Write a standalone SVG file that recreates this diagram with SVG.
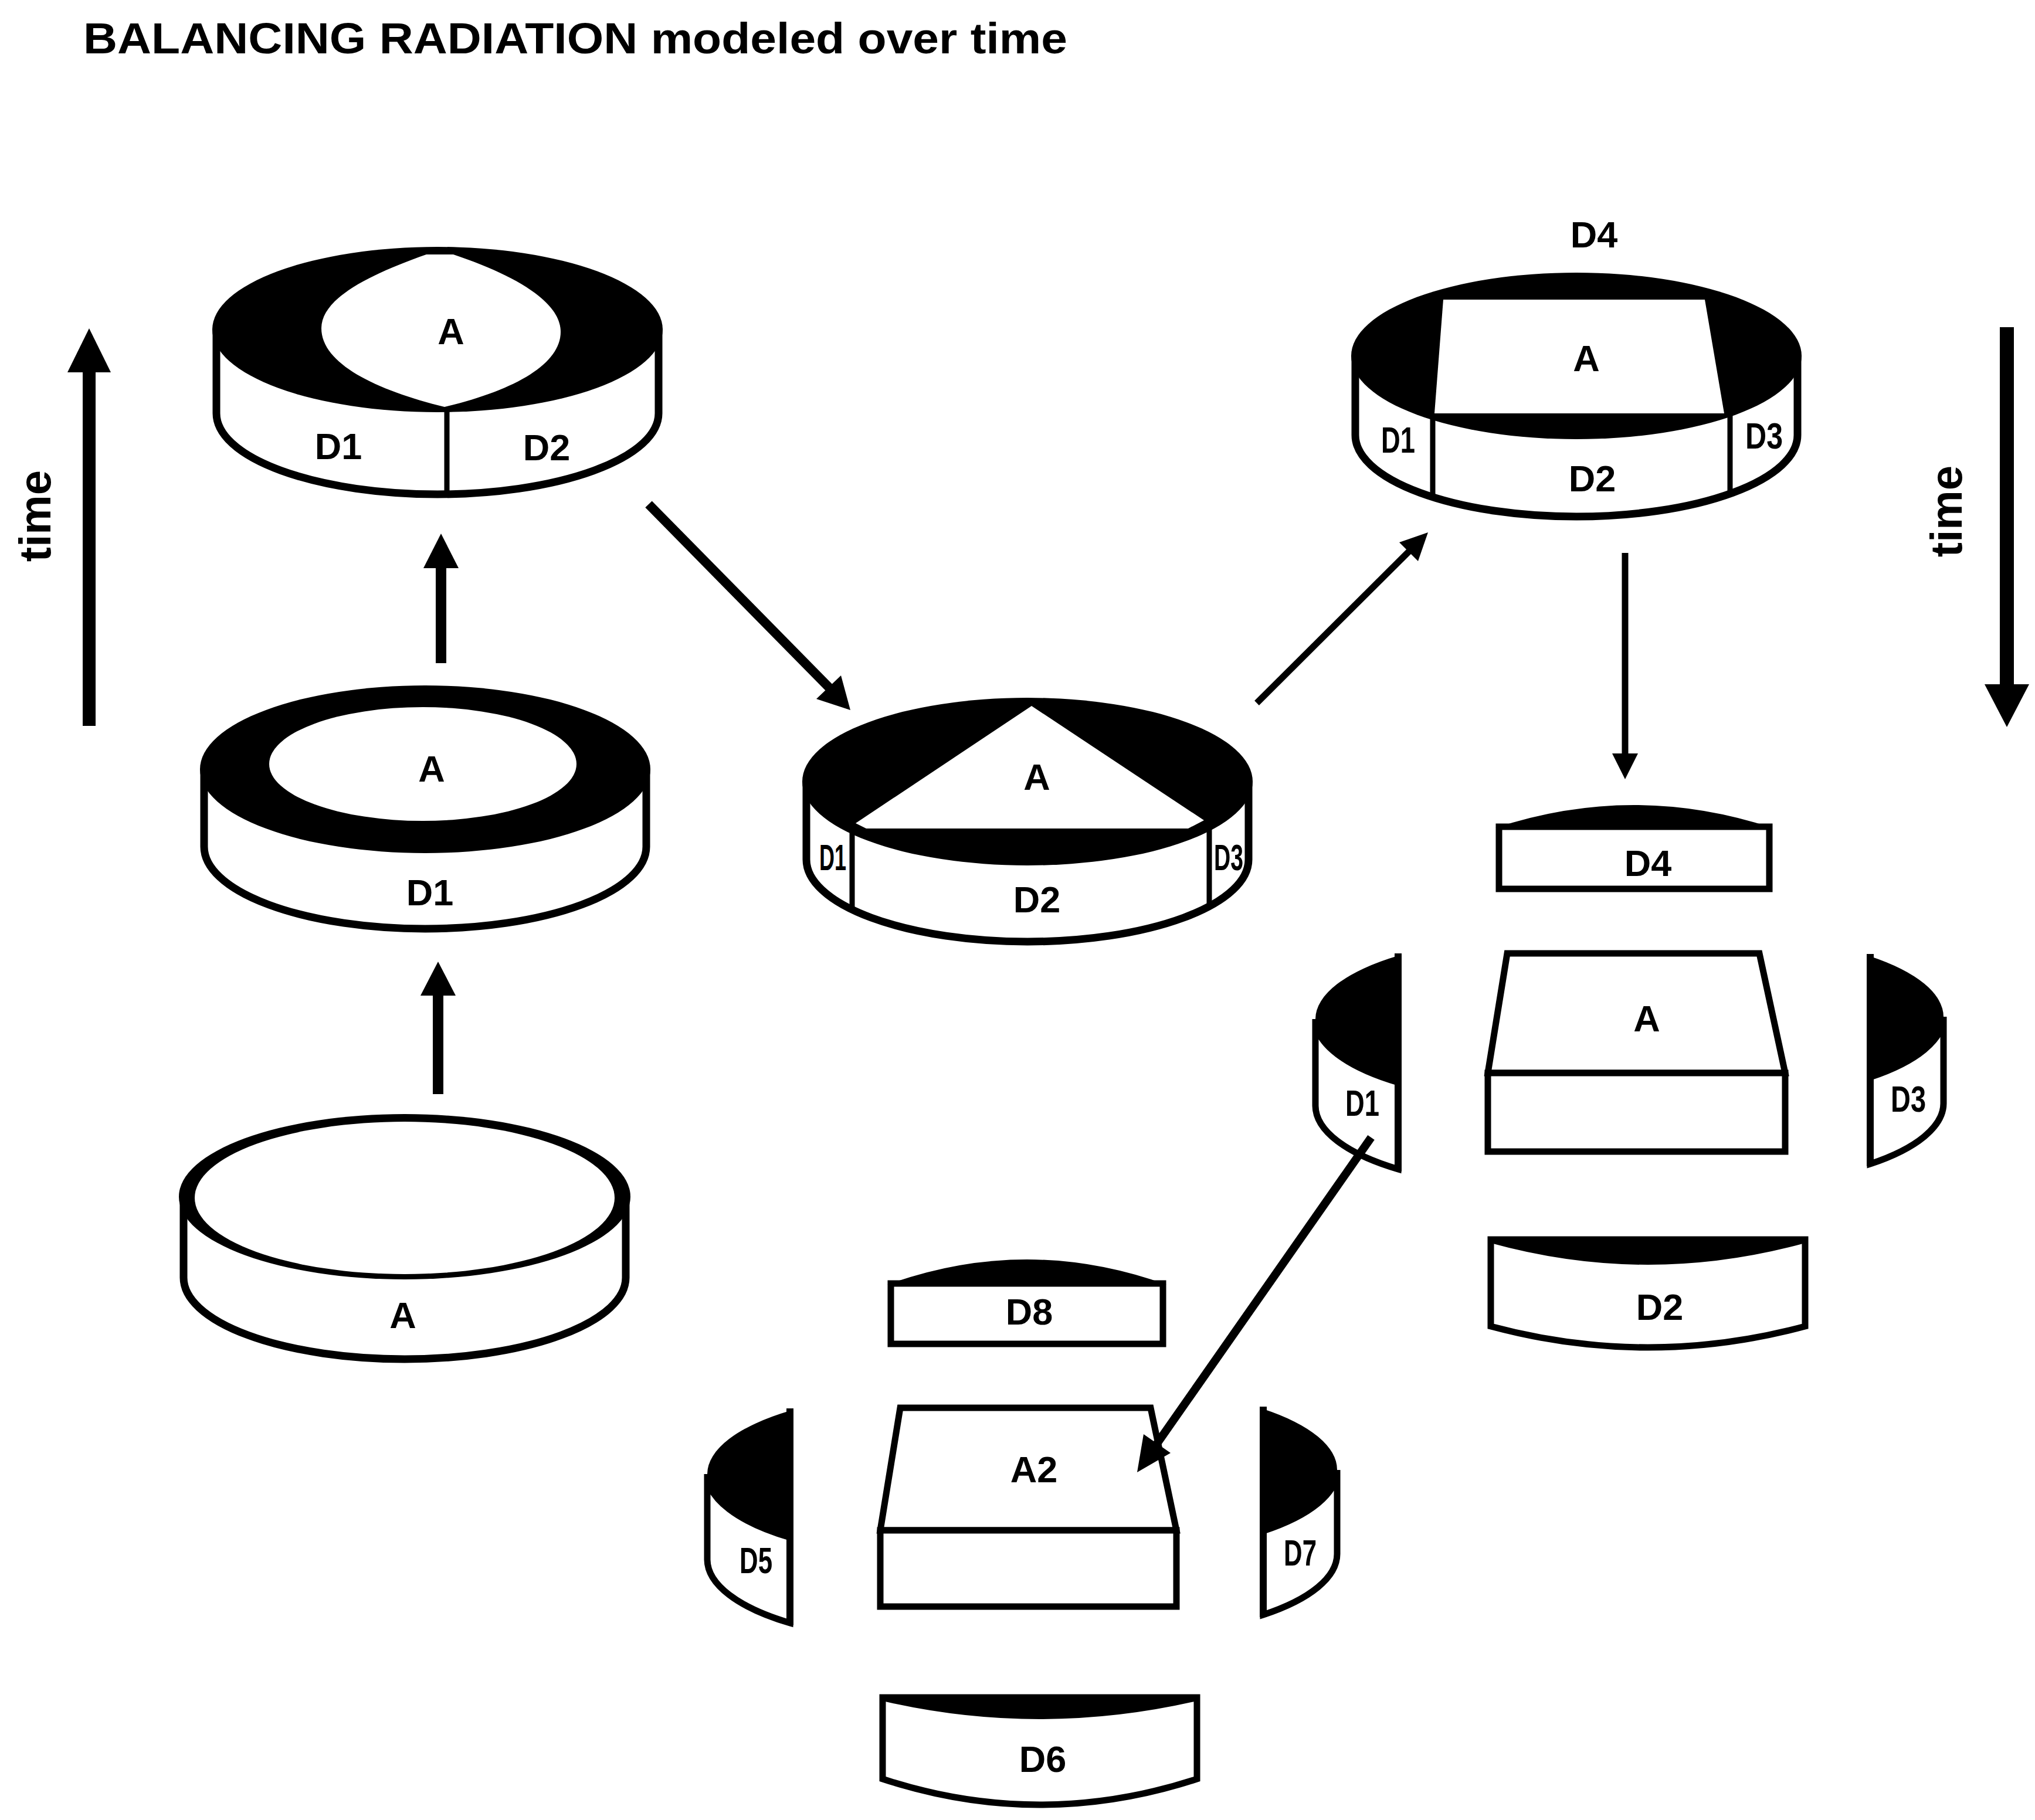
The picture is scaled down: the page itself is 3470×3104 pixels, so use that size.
<svg xmlns="http://www.w3.org/2000/svg" width="3470" height="3104" viewBox="0 0 3470 3104">
<style>
  text { font-family: "Liberation Sans", Arial, sans-serif; font-weight: bold; fill: #000; }
  .lbl { font-size: 63px; text-anchor: middle; }
  .ttl { font-size: 74px; }
  .time { font-size: 76px; text-anchor: middle; }
  .ol { fill: #fff; stroke: #000; stroke-width: 13; stroke-linejoin: round; }
  .pc { fill: #fff; stroke: #000; stroke-width: 11; stroke-linejoin: miter; }
  .blk { fill: #000; stroke: none; }
  .wht { fill: #fff; stroke: none; }
  .div { stroke: #000; stroke-width: 9; fill: none; }
  .edge { stroke: #000; stroke-width: 12; fill: none; }
  .shaft { stroke: #000; fill: none; stroke-linecap: butt; }
  .head { fill: #000; stroke: none; }
</style>
<rect x="0" y="0" width="3470" height="3104" fill="#fff"/>

<text id="title" class="ttl" x="142" y="91" textLength="1678" lengthAdjust="spacingAndGlyphs">BALANCING RADIATION modeled over time</text>

<g id="time-left">
  <text class="time" transform="translate(86,880) rotate(-90)">time</text>
</g>
<g id="time-right">
  <text class="time" transform="translate(3345,872) rotate(-90)">time</text>
</g>

<!-- Stage 1: plain cylinder A -->
<g id="cyl-a">
  <path class="ol" d="M313,2041 V2179 A377,139 0 0 0 1067,2179 V2041 Z"/>
  <ellipse class="blk" cx="690" cy="2041" rx="385" ry="141"/>
  <ellipse class="wht" cx="690" cy="2043" rx="358" ry="130"/>
  <text class="lbl" x="687" y="2265">A</text>
</g>

<!-- Stage 2: A with D1 -->
<g id="cyl-a-d1">
  <path class="ol" d="M348,1312 V1444 A377,140 0 0 0 1102,1444 V1312 Z"/>
  <ellipse class="blk" cx="725" cy="1312" rx="384" ry="143"/>
  <ellipse class="wht" cx="721" cy="1303" rx="262" ry="97"/>
  <text class="lbl" x="736" y="1333">A</text>
  <text class="lbl" x="733" y="1544">D1</text>
</g>

<!-- Stage 3: A with D1, D2 -->
<g id="cyl-a-d1-d2">
  <path class="ol" d="M369,562 V705 A377,138 0 0 0 1123,705 V562 Z"/>
  <ellipse class="blk" cx="746" cy="562" rx="384" ry="141"/>
  <path class="wht" d="M727,434 L773,434 C880,470 956,515 956,566 C956,620 880,665 758,694 C640,665 548,620 548,560 C548,510 625,470 727,434 Z"/>
  <line class="div" x1="762" y1="700" x2="762" y2="845"/>
  <text class="lbl" x="769" y="587">A</text>
  <text class="lbl" x="577" y="783">D1</text>
  <text class="lbl" x="932" y="785">D2</text>
</g>

<!-- Stage 4: A with D1, D2, D3 (triangle) -->
<g id="cyl-triangle">
  <path class="ol" d="M1375,1333 V1466 A377,140 0 0 0 2129,1466 V1333 Z"/>
  <ellipse class="blk" cx="1752" cy="1333" rx="384" ry="143"/>
  <polygon class="wht" points="1759,1204 2053,1399 2026,1413 1477,1413 1459,1404"/>
  <line class="div" x1="1453" y1="1416" x2="1453" y2="1552"/>
  <line class="div" x1="2062" y1="1411" x2="2062" y2="1547"/>
  <text class="lbl" x="1768" y="1347">A</text>
  <text class="lbl" x="1420" y="1484" textLength="46" lengthAdjust="spacingAndGlyphs">D1</text>
  <text class="lbl" x="2095" y="1484" textLength="50" lengthAdjust="spacingAndGlyphs">D3</text>
  <text class="lbl" x="1768" y="1556">D2</text>
</g>

<!-- Stage 5: A with D1, D2, D3, D4 (trapezoid) -->
<g id="cyl-trapezoid">
  <path class="ol" d="M2311,607 V742 A377,139 0 0 0 3065,742 V607 Z"/>
  <ellipse class="blk" cx="2688" cy="607" rx="384" ry="142"/>
  <polygon class="wht" points="2461,511 2907,511 2940,705 2446,705"/>
  <line class="div" x1="2443" y1="711" x2="2443" y2="848"/>
  <line class="div" x1="2950" y1="705" x2="2950" y2="842"/>
  <text class="lbl" x="2718" y="422">D4</text>
  <text class="lbl" x="2705" y="633">A</text>
  <text class="lbl" x="2384" y="772" textLength="58" lengthAdjust="spacingAndGlyphs">D1</text>
  <text class="lbl" x="3008" y="765" textLength="64" lengthAdjust="spacingAndGlyphs">D3</text>
  <text class="lbl" x="2715" y="838">D2</text>
</g>

<!-- Exploded group (right) -->
<g id="piece-d4">
  <rect class="pc" x="2556" y="1410" width="461" height="106"/>
  <path class="blk" d="M2550,1412 Q2786,1334 3022,1412 Z"/>
  <text class="lbl" x="2810" y="1494">D4</text>
</g>
<g id="piece-a">
  <polygon class="pc" points="2570,1626 3000,1626 3044,1830 2537,1830"/>
  <rect class="pc" x="2537" y="1830" width="507" height="134"/>
  <text class="lbl" x="2808" y="1759">A</text>
</g>
<g id="piece-d1">
  <path class="pc" d="M2243,1738 L2243,1886 A377,139 0 0 0 2384,1994 L2384,1846 A377,139 0 0 1 2243,1738 Z"/>
  <path class="blk" d="M2384,1630 A377,139 0 0 0 2243,1738 A377,139 0 0 0 2384,1846 Z"/>
  <line class="edge" x1="2384" y1="1626" x2="2384" y2="1998"/>
  <text class="lbl" x="2323" y="1903" textLength="58" lengthAdjust="spacingAndGlyphs">D1</text>
</g>
<g id="piece-d3">
  <path class="pc" d="M3314,1734 L3314,1882 A377,139 0 0 1 3189,1985 L3189,1837 A377,139 0 0 0 3314,1734 Z"/>
  <path class="blk" d="M3189,1631 A377,139 0 0 1 3314,1734 A377,139 0 0 1 3189,1837 Z"/>
  <line class="edge" x1="3189" y1="1627" x2="3189" y2="1989"/>
  <text class="lbl" x="3254" y="1896" textLength="60" lengthAdjust="spacingAndGlyphs">D3</text>
</g>
<g id="piece-d2">
  <path class="pc" d="M2542,2114 V2262 Q2810,2334 3078,2262 V2114 Z"/>
  <path class="blk" d="M2542,2114 H3078 V2120 Q2810,2194 2542,2120 Z"/>
  <text class="lbl" x="2830" y="2251">D2</text>
</g>

<!-- Exploded group (bottom) -->
<g id="piece-d8">
  <rect class="pc" x="1519" y="2189" width="464" height="103"/>
  <path class="blk" d="M1513,2191 Q1751,2105 1989,2191 Z"/>
  <text class="lbl" x="1755" y="2259">D8</text>
</g>
<g id="piece-a2">
  <polygon class="pc" points="1535,2401 1962,2401 2006,2610 1501,2610"/>
  <rect class="pc" x="1501" y="2610" width="505" height="130"/>
  <text class="lbl" x="1763" y="2528">A2</text>
</g>
<g id="piece-d5">
  <path class="pc" d="M1206,2514 L1206,2660 A377,139 0 0 0 1347,2768 L1347,2622 A377,139 0 0 1 1206,2514 Z"/>
  <path class="blk" d="M1347,2406 A377,139 0 0 0 1206,2514 A377,139 0 0 0 1347,2622 Z"/>
  <line class="edge" x1="1347" y1="2402" x2="1347" y2="2772"/>
  <text class="lbl" x="1289" y="2683" textLength="56" lengthAdjust="spacingAndGlyphs">D5</text>
</g>
<g id="piece-d7">
  <path class="pc" d="M2280,2507 L2280,2650 A377,139 0 0 1 2154,2754 L2154,2611 A377,139 0 0 0 2280,2507 Z"/>
  <path class="blk" d="M2154,2403 A377,139 0 0 1 2280,2507 A377,139 0 0 1 2154,2611 Z"/>
  <line class="edge" x1="2154" y1="2399" x2="2154" y2="2758"/>
  <text class="lbl" x="2217" y="2670" textLength="56" lengthAdjust="spacingAndGlyphs">D7</text>
</g>
<g id="piece-d6">
  <path class="pc" d="M1505,2895 V3034 Q1773,3122 2041,3034 V2895 Z"/>
  <path class="blk" d="M1505,2895 H2041 V2901 Q1773,2963 1505,2901 Z"/>
  <text class="lbl" x="1778" y="3022">D6</text>
</g>

<!-- Connectors -->
<g id="connectors">
  <!-- time arrows -->
  <line class="shaft" x1="152" y1="1238" x2="152" y2="625" stroke-width="22"/>
  <polygon class="head" points="152,560 115,635 189,635"/>
  <line class="shaft" x1="3422" y1="558" x2="3422" y2="1175" stroke-width="24"/>
  <polygon class="head" points="3422,1240 3384,1167 3460,1167"/>
  <!-- A -> A/D1 -->
  <line class="shaft" x1="747" y1="1866" x2="747" y2="1690" stroke-width="18"/>
  <polygon class="head" points="747,1640 717,1698 777,1698"/>
  <!-- A/D1 -> A/D1/D2 -->
  <line class="shaft" x1="752" y1="1131" x2="752" y2="960" stroke-width="18"/>
  <polygon class="head" points="752,910 722,969 782,969"/>
  <!-- A/D1/D2 -> triangle -->
  <line class="shaft" x1="1106" y1="860" x2="1420" y2="1179" stroke-width="16"/>
  <polygon class="head" points="1450,1211 1392,1192 1434,1152"/>
  <!-- triangle -> trapezoid -->
  <line class="shaft" x1="2143" y1="1199" x2="2408" y2="935" stroke-width="11"/>
  <polygon class="head" points="2435,908 2418,957 2386,925"/>
  <!-- trapezoid -> exploded -->
  <line class="shaft" x1="2771" y1="943" x2="2771" y2="1292" stroke-width="11"/>
  <polygon class="head" points="2771,1329 2749,1285 2793,1285"/>
  <!-- D1 -> A2 -->
  <line class="shaft" x1="2338" y1="1940" x2="1968" y2="2469" stroke-width="14"/>
  <polygon class="head" points="1939,2511 1996,2478 1950,2446"/>
</g>
</svg>
